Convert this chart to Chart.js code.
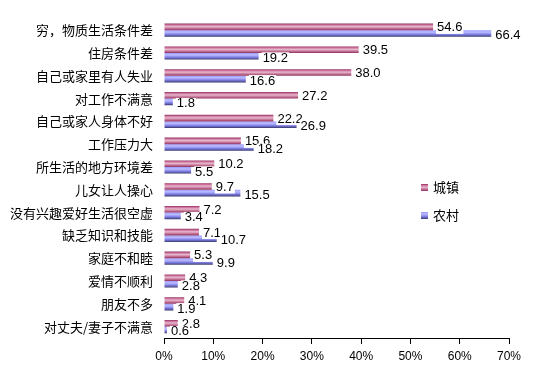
<!DOCTYPE html>
<html>
<head>
<meta charset="utf-8">
<script src="https://cdn.jsdelivr.net/npm/chart.js@4"></script>
<style>
  html, body { margin: 0; padding: 0; background: #fff; }
  #wrap { width: 539px; height: 375px; }
</style>
</head>
<body>
<div id="wrap"><canvas id="chart" width="539" height="375"></canvas></div>
<script>
// reasons, top to bottom
const reasons = ['穷，物质生活条件差', '住房条件差', '自己或家里有人失业', '对工作不满意',
  '自己或家人身体不好', '工作压力大', '所生活的地方环境差', '儿女让人操心',
  '没有兴趣爱好生活很空虚', '缺乏知识和技能', '家庭不和睦', '爱情不顺利',
  '朋友不多', '对丈夫/妻子不满意'];
const townValues = [54.6, 39.5, 38.0, 27.2, 22.2, 15.6, 10.2, 9.7, 7.2, 7.1, 5.3, 4.3, 4.1, 2.8];
const ruralValues = [66.4, 19.2, 16.6, 1.8, 26.9, 18.2, 5.5, 15.5, 3.4, 10.7, 9.9, 2.8, 1.9, 0.6];
const seriesNames = ['城镇', '农村'];
const xTicks = [0, 10, 20, 30, 40, 50, 60, 70];

const catPct = 0.58;
const stops = [
  [[0, '#8e2f5e'], [0.2, '#cc6f9a'], [0.45, '#e6b9cc'], [0.7, '#c97a9c'], [1, '#8e2f5e']],
  [[0, '#9a9aff'], [0.3, '#bcbcff'], [0.6, '#8686ec'], [0.85, '#5a5aa8'], [1, '#333366']]
];
const solid = ['#c06090', '#9999ff'];

function makeGrad(c, top, h, i) {
  const g = c.createLinearGradient(0, top, 0, top + h);
  stops[i].forEach(s => g.addColorStop(s[0], s[1]));
  return g;
}

function barFill(ctx) {
  const chart = ctx.chart;
  const s = chart.scales.y;
  if (!s || ctx.type !== 'data' || !s.height) return solid[ctx.datasetIndex];
  const c = s.getPixelForValue(ctx.dataIndex);
  const band = s.height / reasons.length * catPct;
  const top = ctx.datasetIndex === 0 ? c - band / 2 : c;
  return makeGrad(chart.ctx, top, band / 2, ctx.datasetIndex);
}

const valueLabels = {
  id: 'valueLabels',
  afterDatasetsDraw(chart) {
    const c = chart.ctx;
    c.save();
    c.font = '13px "Liberation Sans", Arial, sans-serif';
    c.textBaseline = 'middle';
    chart.data.datasets.forEach((ds, i) => {
      chart.getDatasetMeta(i).data.forEach((bar, j) => {
        const txt = ds.data[j].toFixed(1);
        const x = bar.x + 4;
        const y = i === 0 ? bar.y + 1 : bar.y + 2;
        const w = c.measureText(txt).width;
        c.fillStyle = '#fff';
        c.fillRect(x - 1, y - 6, w + 2, 12);
        c.fillStyle = '#000';
        c.fillText(txt, x, y);
      });
    });
    // legend inside plot
    const lx = 421, ly = [187, 215];
    seriesNames.forEach((name, i) => {
      c.fillStyle = makeGrad(c, ly[i] - 3, 7, i);
      c.fillRect(lx, ly[i] - 3, 7, 7);
      c.fillStyle = '#000';
      c.font = '13px "Noto Sans CJK SC", sans-serif';
      c.fillText(name, lx + 12, ly[i]);
    });
    c.restore();
  }
};

new Chart(document.getElementById('chart'), {
  type: 'bar',
  data: {
    labels: reasons,
    datasets: [
      { label: seriesNames[0], data: townValues, backgroundColor: barFill },
      { label: seriesNames[1], data: ruralValues, backgroundColor: barFill }
    ]
  },
  options: {
    indexAxis: 'y',
    responsive: false,
    animation: false,
    devicePixelRatio: 1,
    categoryPercentage: catPct,
    barPercentage: 1,
    layout: { padding: { top: 8, right: 30, left: 0, bottom: 0 } },
    plugins: { legend: { display: false }, tooltip: { enabled: false } },
    scales: {
      x: {
        min: 0, max: 70,
        afterBuildTicks: s => { s.ticks = xTicks.map(v => ({ value: v })); },
        afterFit: s => { s.height = 37; },
        grid: { drawOnChartArea: false, color: '#000', tickLength: 6 },
        border: { color: '#000', width: 1 },
        ticks: {
          color: '#000', padding: 5, maxRotation: 0,
          font: { size: 12, family: '"Liberation Sans", Arial, sans-serif' },
          callback: v => v + '%'
        }
      },
      y: {
        afterFit: s => { s.width = 164; },
        grid: { display: false, drawTicks: false },
        border: { display: false },
        ticks: {
          color: '#000', padding: 11,
          font: { size: 13, family: '"Noto Sans CJK SC", sans-serif' }
        }
      }
    }
  },
  plugins: [valueLabels]
});
</script>
</body>
</html>
